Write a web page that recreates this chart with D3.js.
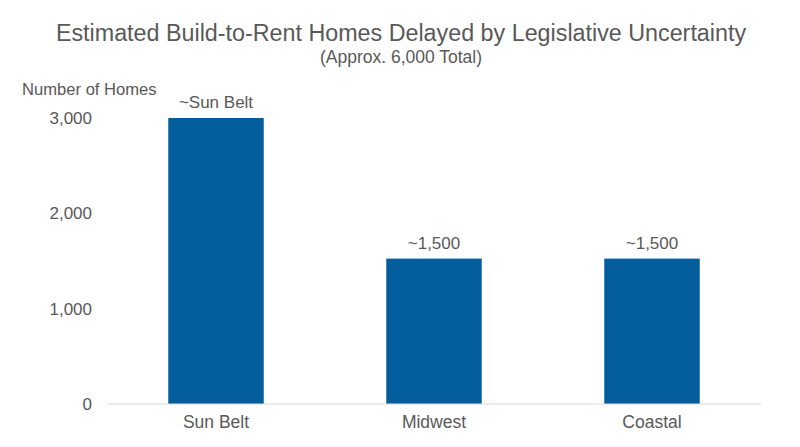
<!DOCTYPE html>
<html>
<head>
<meta charset="utf-8">
<script src="https://cdn.jsdelivr.net/npm/d3@7"></script>
<style>
  body { margin: 0; background: #fff; }
  text { font-family: "Liberation Sans", Arial, sans-serif; fill: #595959; }
</style>
</head>
<body>
<div id="chart-area"></div>
<script>
// Chart data
const regions = ["Sun Belt", "Midwest", "Coastal"];
const homes = [3000, 1525, 1525];
const barLabels = ["~Sun Belt", "~1,500", "~1,500"];
const yTicks = [0, 1000, 2000, 3000];

const width = 800;
const height = 447;
const margin = { top: 118, right: 39, bottom: 43, left: 107 };

const svg = d3.select("#chart-area")
    .append("svg")
    .attr("width", width)
    .attr("height", height);

const x = d3.scaleBand()
    .domain(regions)
    .range([margin.left, width - margin.right])
    .paddingInner(0.562)
    .paddingOuter(0.281);

const y = d3.scaleLinear()
    .domain([0, 3000])
    .range([height - margin.bottom, margin.top]);

// Title + subtitle
svg.append("text")
    .attr("x", 401)
    .attr("y", 41)
    .attr("text-anchor", "middle")
    .style("font-size", "23.3px")
    .text("Estimated Build-to-Rent Homes Delayed by Legislative Uncertainty");

svg.append("text")
    .attr("x", 401)
    .attr("y", 63)
    .attr("text-anchor", "middle")
    .style("font-size", "17.5px")
    .text("(Approx. 6,000 Total)");

// Y axis label
svg.append("text")
    .attr("x", 22)
    .attr("y", 95)
    .style("font-size", "16.6px")
    .text("Number of Homes");

// Y axis (labels only)
const yAxis = svg.append("g")
    .attr("transform", `translate(${margin.left - 15},0)`)
    .call(d3.axisLeft(y).tickValues(yTicks).tickFormat(d3.format(",")).tickSize(0).tickPadding(0));
yAxis.select(".domain").remove();
yAxis.selectAll("text")
    .style("font-size", "17px")
    .style("fill", "#595959")
    .style("font-family", "Liberation Sans, Arial, sans-serif");

// Bars
svg.selectAll(".bar")
    .data(regions)
    .enter()
    .append("rect")
    .attr("class", "bar")
    .attr("x", d => x(d))
    .attr("y", (d, i) => y(homes[i]))
    .attr("width", x.bandwidth())
    .attr("height", (d, i) => y(0) - y(homes[i]))
    .attr("fill", "#045e9d");

// Baseline
svg.append("line")
    .attr("x1", margin.left)
    .attr("x2", width - margin.right)
    .attr("y1", y(0))
    .attr("y2", y(0))
    .attr("stroke", "#d9d9d9")
    .attr("stroke-width", 1);

// X axis labels
const xAxis = svg.append("g")
    .attr("transform", `translate(0,${y(0)})`)
    .call(d3.axisBottom(x).tickSize(0).tickPadding(12));
xAxis.select(".domain").remove();
xAxis.selectAll("text")
    .style("font-size", "17.5px")
    .style("fill", "#595959")
    .style("font-family", "Liberation Sans, Arial, sans-serif");

// Value labels
svg.selectAll(".value-label")
    .data(regions)
    .enter()
    .append("text")
    .attr("class", "value-label")
    .attr("x", d => x(d) + x.bandwidth() / 2)
    .attr("y", (d, i) => y(homes[i]) - 10)
    .attr("text-anchor", "middle")
    .style("font-size", "17px")
    .text((d, i) => barLabels[i]);
</script>
</body>
</html>
